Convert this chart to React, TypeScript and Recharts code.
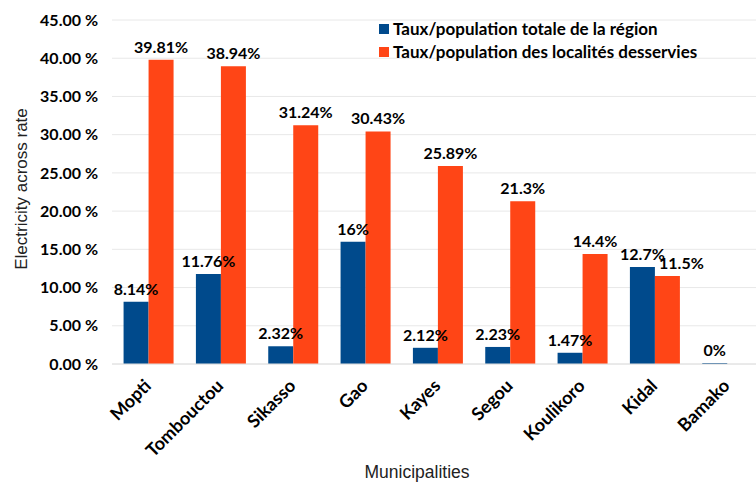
import { BarChart, Bar, XAxis, YAxis, CartesianGrid, LabelList, Label } from "recharts";

const regions = ["Mopti", "Tombouctou", "Sikasso", "Gao", "Kayes", "Segou", "Koulikoro", "Kidal", "Bamako"];
const totalRate = [8.14, 11.76, 2.32, 16, 2.12, 2.23, 1.47, 12.7, 0];
const servedRate = [39.81, 38.94, 31.24, 30.43, 25.89, 21.3, 14.4, 11.5, null];
const yTicks = [0, 5, 10, 15, 20, 25, 30, 35, 40, 45];

const BLUE = "#004a8c";
const ORANGE = "#ff4516";
const FONT = "Lato, 'Open Sans', sans-serif";
const SANS = "'Liberation Sans', Arial, sans-serif";

// the served label at Kidal is pushed right so it clears the blue one
const servedLabelNudge: Record<string, number> = { Kidal: 14 };

const data = regions.map((name, i) => ({
  name,
  total: totalRate[i],
  served: servedRate[i],
}));

const legendItems = [
  { label: "Taux/population totale de la région", color: BLUE },
  { label: "Taux/population des localités desservies", color: ORANGE },
];

function XTick({ x, y, payload }: any) {
  const ax = x + 4;
  const ay = y + 15;
  return (
    <text
      x={ax}
      y={ay}
      transform={`rotate(-45 ${ax} ${ay})`}
      textAnchor="end"
      fontFamily={FONT}
      fontWeight="bold"
      fontSize={18}
      fill="#000"
    >
      {payload.value}
    </text>
  );
}

function LegendBox() {
  return (
    <div
      style={{
        position: "absolute",
        left: 379,
        top: 17,
        fontFamily: FONT,
        fontWeight: "bold",
        fontSize: 17,
        color: "#000",
      }}
    >
      {legendItems.map((item) => (
        <div key={item.label} style={{ display: "flex", alignItems: "center", height: 23 }}>
          <div style={{ width: 10, height: 10, background: item.color, marginRight: 4 }} />
          <span>{item.label}</span>
        </div>
      ))}
    </div>
  );
}

function BarLabel({ x, y, width, value, index, nudge }: any) {
  if (value === null || value === undefined) return null;
  const dx = nudge ? nudge[regions[index]] || 0 : 0;
  return (
    <text
      x={x + width / 2 + dx}
      y={y - 7}
      textAnchor="middle"
      fontFamily={FONT}
      fontWeight="bold"
      fontSize={16}
      fill="#000"
    >
      {`${value}%`}
    </text>
  );
}

export default function App() {
  return (
    <div style={{ position: "fixed", left: 0, top: 0, width: 756, height: 482, overflow: "hidden", background: "#fff" }}>
      <BarChart
        width={772}
        height={482}
        data={data}
        margin={{ top: 20, right: 9, bottom: 8, left: 2 }}
        barCategoryGap="16%"
        barGap={0}
      >
        <CartesianGrid vertical={false} stroke="#e8e8e8" />
        <XAxis
          dataKey="name"
          height={110}
          tick={<XTick />}
          tickLine={false}
          axisLine={{ stroke: "#e0e0e0" }}
          interval={0}
        >
          <Label
            content={() => (
              <text x={417} y={478} textAnchor="middle" fontFamily={SANS} fontSize={17.5} fill="#222">
                Municipalities
              </text>
            )}
          />
        </XAxis>
        <YAxis
          width={110}
          domain={[0, 45]}
          ticks={yTicks}
          tickFormatter={(v: number) => `${v.toFixed(2)} %`}
          axisLine={false}
          tickLine={false}
          tickSize={0}
          tickMargin={14}
          tick={{ fontFamily: FONT, fontWeight: "bold", fontSize: 16, fill: "#000" }}
        >
          <Label
            content={() => (
              <text
                x={27}
                y={189}
                transform="rotate(-90 27 189)"
                textAnchor="middle"
                fontFamily={SANS}
                fontSize={17}
                fill="#222"
              >
                Electricity across rate
              </text>
            )}
          />
        </YAxis>
        <Bar dataKey="total" fill={BLUE} minPointSize={1} isAnimationActive={false}>
          <LabelList dataKey="total" content={<BarLabel />} />
        </Bar>
        <Bar dataKey="served" fill={ORANGE} isAnimationActive={false}>
          <LabelList dataKey="served" content={<BarLabel nudge={servedLabelNudge} />} />
        </Bar>
      </BarChart>
      <LegendBox />
    </div>
  );
}
